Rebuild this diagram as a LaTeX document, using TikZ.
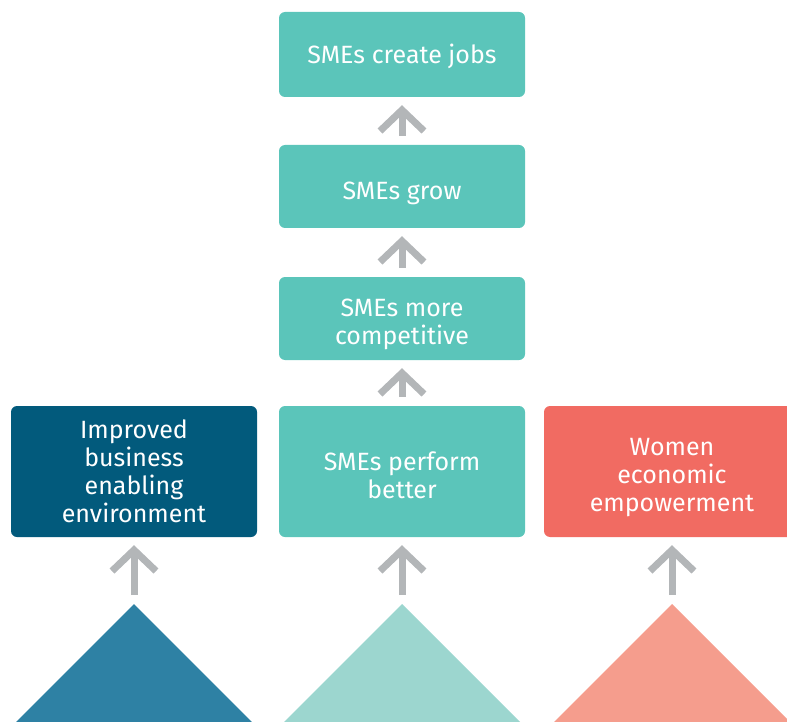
\documentclass[tikz,border=0pt]{standalone}
\usepackage{fontspec}
\setmainfont{Fira Sans}
\usepackage{tikz}
\usetikzlibrary{arrows.meta}
\definecolor{tealbox}{HTML}{5BC5BA}
\definecolor{bluebox}{HTML}{025A7C}
\definecolor{redbox}{HTML}{F16B62}
\definecolor{bluetri}{HTML}{2E81A4}
\definecolor{tealtri}{HTML}{9CD6CF}
\definecolor{redtri}{HTML}{F59D8D}
\definecolor{arrowgray}{HTML}{B3B6B8}
\tikzset{
  box/.style={rounded corners=6pt, minimum width=246pt, align=center,
    text=white, font=\fontsize{25}{28}\selectfont, inner sep=0pt,
    text height=0pt, text depth=0pt},
  uparrow/.style={arrowgray, line width=7pt,
    -{Straight Barb[length=21pt,width=44pt,line join=miter]}}
}

\begin{document}
\begin{tikzpicture}[x=1pt,y=-1pt]
    \useasboundingbox (0,0) rectangle (787,722);

    % result chain
    \node[box, fill=tealbox, minimum height=85pt, text height=19pt] at (402,54.5) (jobs) {SMEs create jobs};
    \node[box, fill=tealbox, minimum height=83pt, text height=27pt] at (402,186.5) (grow) {SMEs grow};
    \node[box, fill=tealbox, minimum height=83pt, text height=51pt] at (402,318.5) (compet) {SMEs more\\competitive};
    \node[box, fill=tealbox, minimum height=131pt, text height=53pt] at (402,471.5) (perform) {SMEs perform\\better};
    \node[box, fill=bluebox, minimum height=131pt, text height=101pt] at (134,471.5) (enabling) {Improved\\business\\enabling\\environment};
    \node[box, fill=redbox, minimum height=131pt, minimum width=256pt, text height=79pt] at (672,471.5) (women) {Women\\economic\\empowerment};

    % pillars
    \fill[bluetri] (16,722)--(134,604)--(252,722)--cycle;
    \fill[tealtri] (284,722)--(402,604)--(520,722)--cycle;
    \fill[redtri] (554,722)--(672,604)--(790,722)--cycle;
    \coordinate (tri1) at (134,604);
    \coordinate (tri2) at (402,604);
    \coordinate (tri3) at (672,604);

    \draw[uparrow] ([yshift=9pt]tri1) -- ([yshift=-8pt]enabling.south);
    \draw[uparrow] ([yshift=9pt]tri2) -- ([yshift=-8pt]perform.south);
    \draw[uparrow] ([yshift=9pt]tri3) -- ([yshift=-8pt]women.south);
    \draw[uparrow] ([yshift=9pt]perform.north) -- ([yshift=-8pt]compet.south);
    \draw[uparrow] ([yshift=9pt]compet.north) -- ([yshift=-8pt]grow.south);
    \draw[uparrow] ([yshift=9pt]grow.north) -- ([yshift=-8pt]jobs.south);
\end{tikzpicture}
\end{document}
